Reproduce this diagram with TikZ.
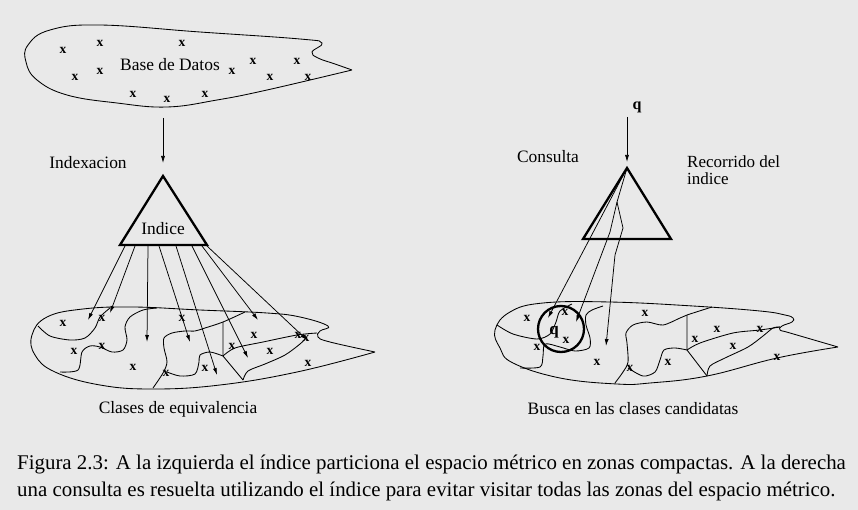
\documentclass[tikz,border=0pt]{standalone}
\usepackage{fontspec}
\setmainfont{Liberation Serif}
\usepackage{tikz}
\usetikzlibrary{arrows.meta}
\usetikzlibrary{positioning}
\usetikzlibrary{calc}
\definecolor{paper}{HTML}{E9E9E9}
\tikzset{
	boundary/.style={draw=black, line width=0.85pt},
	pointer/.style={draw=black, line width=0.75pt, -{Latex[length=7pt,width=4pt]}},
	index/.style={draw=black, line width=2.3pt, line join=miter},
	pt/.style={font=\bfseries\fontsize{13.5}{13.5}\selectfont, inner sep=0pt},
	tag/.style={font=\fontsize{17.4}{18}\selectfont, inner sep=0pt},
	capt/.style={font=\fontsize{20.9}{27}\selectfont, inner sep=0pt, anchor=base west},
}
\begin{document}
\begin{tikzpicture}[x=1pt, y=-1pt]
	\fill[paper] (0,0) rectangle (858,510);
	\useasboundingbox (0,0) rectangle (858,510);
	% base de datos
	\draw[boundary] plot[smooth, tension=0.7] coordinates {(352,70) (335,64) (318,58) (312,52) (322,43)
		(300,39) (200,32) (100,25) (50,30) (28,45) (26,62) (37,80) (67,95) (117,103) (167,107) (217,100) (267,90) (352,70)};
	\foreach \p [count=\i] in {(63,50),(100,43),(182,43),(75,77),(100,71),(133,94),(167,99),(205,94),
		(232,71),(253,61),(270,77),(297,61),(308,77)}
		\node[pt] (db\i) at \p {x};
	\node[tag] (dbname) at (170,65) {Base de Datos};
	\coordinate (dbout) at (163,118);
	% indice de la izquierda
	\coordinate (idxtop) at (163,176);
	\coordinate (idxl) at (120,245);
	\coordinate (idxr) at (207,245);
	\draw[index] (idxtop) -- (idxl) -- (idxr) -- cycle;
	\node[tag] (idxname) at (163,229) {Indice};
	\node[tag] (idxing) at (88,163) {Indexacion};
	\draw[pointer] (dbout) -- ([yshift=13pt]idxtop);
	% clases de equivalencia
	\begin{scope}
		\draw[boundary] plot[smooth, tension=0.7] coordinates {(375,352) (330,342) (318,337) (320,331) (328,326)
			(300,317) (267,313) (200,310) (133,307) (83,309) (47,317) (32,335) (35,355) (55,372) (100,385)
			(153,389) (220,385) (297,372) (375,352)};
		\draw[boundary] plot[smooth] coordinates {(38,326) (50,336) (70,340) (85,338) (95,328) (100,317) (110,308)};
		\draw[boundary] plot[smooth] coordinates {(60,372) (78,370) (82,352) (90,346) (100,347) (112,352) (123,350)
			(127,340) (125,327) (130,317) (143,310) (157,308)};
		\draw[boundary] plot[smooth] coordinates {(153,388) (163,373) (167,362) (164,348) (164,338) (172,333)
			(185,331) (195,331) (205,328) (223,322) (245,312)};
		\draw[boundary] plot[smooth] coordinates {(167,372) (180,376) (195,374) (199,362) (200,355) (210,352) (223,356)};
		\draw[boundary] (223,322) -- (223,356) -- (243,380);
		\draw[boundary] plot[smooth] coordinates {(223,356) (235,348) (263,342) (297,335) (317,333)};
		\draw[boundary] plot[smooth] coordinates {(243,380) (248,371) (265,364) (285,355) (300,344) (307,337)};
	\end{scope}
	\foreach \p [count=\i] in {(63,323),(102,318),(182,318),(74,351),(102,346),(133,367),(166,373),(205,368),
		(232,346),(254,335),(270,351),(298,335),(306,338),(308,363)}
		\node[pt] (eq\i) at \p {x};
	\foreach \sx/\tx/\ty [count=\i] in {125/88/320,135/110/313,148/147/342,159/190/342,
		176/217/375,192/248/358,202/258/320,207/307/340} {
		\coordinate (from\i) at (\sx,246);
		\coordinate (to\i) at (\tx,\ty);
		\draw[pointer] (from\i) -- (to\i);
	}
	\node[tag] (eqname) at (178,409) {Clases de equivalencia};
	% consulta
	\coordinate (qin) at (627,117);
	\coordinate (qtop) at (627,168);
	\coordinate (ql) at (583,239);
	\coordinate (qr) at (671,239);
	\draw[index] (qtop) -- (ql) -- (qr) -- cycle;
	\node[tag, font=\bfseries\fontsize{16}{16}\selectfont] (qname) at (637,107) {q};
	\node[tag] (consulta) at (548,157) {Consulta};
	\node[tag, anchor=west, align=left, font=\fontsize{17}{17}\selectfont] (recorrido) at (687,170) {Recorrido del\\indice};
	\draw[pointer] (qin) -- ([yshift=6pt]qtop);
	% zonas candidatas
	\begin{scope}
		\draw[boundary] plot[smooth, tension=0.7] coordinates {(838,347) (790,333) (780,330) (782,326) (792,322)
			(793,318) (785,315) (760,311) (693,306) (610,302) (543,303) (510,312) (495,330) (500,348) (513,363)
			(560,378) (617,384) (650,383) (707,376) (777,358) (838,347)};
		\draw[boundary] plot[smooth] coordinates {(497,325) (513,334) (537,339) (550,334) (556,322) (560,311) (572,304)};
		\draw[boundary] plot[smooth] coordinates {(520,368) (540,367) (543,356) (545,344) (560,347) (575,351)
			(589,348) (590,338) (586,325) (586,315) (592,310) (603,306)};
		\draw[boundary] plot[smooth] coordinates {(615,383) (623,372) (628,362) (627,343) (626,333) (633,325)
			(647,322) (663,325) (680,318) (687,315) (712,307)};
		\draw[boundary] plot[smooth] coordinates {(628,368) (643,376) (655,372) (660,360) (664,350) (675,348) (687,350)};
		\draw[boundary] (687,315) -- (687,350) -- (707,376);
		\draw[boundary] plot[smooth] coordinates {(707,376) (710,366) (725,358) (748,347) (763,336) (773,328) (780,327)};
		\draw[boundary] plot[smooth] coordinates {(687,350) (700,343) (733,333) (760,330) (780,327)};
	\end{scope}
	\foreach \p [count=\i] in {(527,318),(565,312),(566,340),(537,347),(597,362),(630,368),(645,313),
		(668,362),(695,339),(717,329),(733,346),(760,329),(777,357)}
		\node[pt] (cand\i) at \p {x};
	\node[draw=black, line width=2.3pt, circle, minimum size=46pt, inner sep=0pt] (ball) at (561,329) {};
	\node[tag, font=\bfseries\fontsize{17}{17}\selectfont] (qball) at (554,332) {q};
	\coordinate (hop) at (617,202);
	\coordinate (candA) at (548,318);
	\coordinate (candB) at (576,322);
	\coordinate (candC) at (606,346);
	\draw[pointer] (qtop) -- (candA);
	\draw[pointer] (qtop) -- (hop) -- (610,232) -- (candB);
	\draw[pointer] (hop) -- (623,228) -- (615,255) -- (candC);
	\node[tag] (busca) at (633,409) {Busca en las clases candidatas};
	% leyenda
	\node[capt] (cap1) at (17,469) {Figura 2.3: A la izquierda el índice particiona el espacio métrico en zonas compactas. A la derecha};
	\node[capt] (cap2) at (17,496) {una consulta es resuelta utilizando el índice para evitar visitar todas las zonas del espacio métrico.};
\end{tikzpicture}
\end{document}
